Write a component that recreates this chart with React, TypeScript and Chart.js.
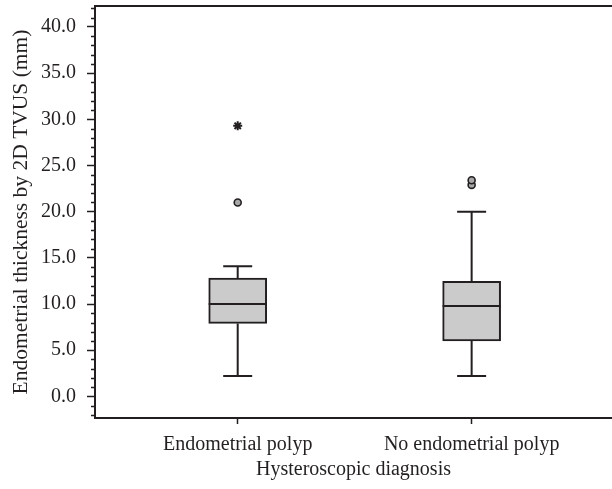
import React, { useEffect, useRef } from 'react';
import { Chart, registerables } from 'chart.js';

Chart.register(...registerables);

// ---- data ----
const categories = ['Endometrial polyp', 'No endometrial polyp'];
const categoryPositions = [1, 2];
const whiskerLow = [2.2, 2.2];
const quartile1 = [7.9, 6.0];
const medians = [10.0, 9.8];
const quartile3 = [12.8, 12.45];
const whiskerHigh = [14.1, 20.0];
const outlierX = [1, 2, 2];
const outlierY = [21.0, 22.9, 23.4];
const extremeX = [1];
const extremeY = [29.3];
const yTicks = [0, 5, 10, 15, 20, 25, 30, 35, 40];
const yMinorStep = 1;
const yMin = -2.34;
const yMax = 42.27;
const xMin = 0.39;
const xMax = 2.6;

const INK = '#231f20';
const FONT = '"Liberation Serif", "Times New Roman", serif';

const boxPlugin = {
  id: 'boxWhiskers',
  afterDatasetsDraw(chart: any) {
    const { ctx, scales } = chart;
    const x = scales.x;
    const y = scales.y;
    ctx.save();
    ctx.strokeStyle = INK;
    ctx.lineWidth = 2;
    ctx.lineCap = 'butt';
    categoryPositions.forEach((pos, i) => {
      const cx = x.getPixelForValue(pos);
      const capHalf = 14.5;
      const boxHalf = 29;
      const pHi = y.getPixelForValue(whiskerHigh[i]);
      const pLo = y.getPixelForValue(whiskerLow[i]);
      const pQ1 = y.getPixelForValue(quartile1[i]);
      const pQ3 = y.getPixelForValue(quartile3[i]);
      const pMed = y.getPixelForValue(medians[i]);
      ctx.beginPath();
      ctx.moveTo(cx, pQ3);
      ctx.lineTo(cx, pHi);
      ctx.moveTo(cx - capHalf, pHi);
      ctx.lineTo(cx + capHalf, pHi);
      ctx.moveTo(cx, pQ1);
      ctx.lineTo(cx, pLo);
      ctx.moveTo(cx - capHalf, pLo);
      ctx.lineTo(cx + capHalf, pLo);
      ctx.moveTo(cx - boxHalf, pMed);
      ctx.lineTo(cx + boxHalf, pMed);
      ctx.stroke();
    });
    ctx.restore();
  },
  afterDraw(chart: any) {
    const { ctx, chartArea, scales } = chart;
    const y = scales.y;
    ctx.save();
    ctx.strokeStyle = INK;
    // top frame line
    ctx.lineWidth = 2;
    ctx.beginPath();
    ctx.moveTo(chartArea.left - 1, chartArea.top);
    ctx.lineTo(chartArea.right + 2, chartArea.top);
    ctx.stroke();
    // minor ticks
    ctx.lineWidth = 1.3;
    ctx.beginPath();
    for (let v = Math.ceil(yMin); v <= Math.floor(yMax); v += yMinorStep) {
      if (v % 5 === 0) continue;
      const py = Math.round(y.getPixelForValue(v)) + 0.5;
      ctx.moveTo(chartArea.left - 4, py);
      ctx.lineTo(chartArea.left, py);
    }
    ctx.stroke();
    ctx.restore();
  },
};

export default function App() {
  const ref = useRef<HTMLCanvasElement | null>(null);

  useEffect(() => {
    if (!ref.current) return;
    Chart.defaults.font.family = FONT;
    Chart.defaults.color = INK;
    const chart = new Chart(ref.current, {
      type: 'bar',
      data: {
        datasets: [
          {
            type: 'bar',
            data: categoryPositions.map((p, i) => ({ x: p, y: [quartile1[i], quartile3[i]] })) as any,
            backgroundColor: '#cbcbcb',
            borderColor: INK,
            borderWidth: 2,
            borderSkipped: false,
            barThickness: 58,
          } as any,
          {
            type: 'scatter',
            data: outlierX.map((xv, i) => ({ x: xv, y: outlierY[i] })),
            pointStyle: 'circle',
            pointRadius: 3.5,
            pointBackgroundColor: '#a8a8a8',
            pointBorderColor: INK,
            pointBorderWidth: 1.6,
          } as any,
          {
            type: 'scatter',
            data: extremeX.map((xv, i) => ({ x: xv, y: extremeY[i] })),
            pointStyle: 'star',
            pointRadius: 4.5,
            pointBorderColor: INK,
            pointBorderWidth: 2,
          } as any,
        ],
      },
      options: {
        responsive: false,
        animation: false,
        devicePixelRatio: 1,
        layout: { padding: { top: 6, left: 0, right: 0, bottom: 0 }, autoPadding: false } as any,
        plugins: { legend: { display: false }, tooltip: { enabled: false } },
        scales: {
          x: {
            type: 'linear',
            min: xMin,
            max: xMax,
            offset: false,
            afterBuildTicks: (scale: any) => {
              scale.ticks = categoryPositions.map((v) => ({ value: v }));
            },
            afterFit: (scale: any) => {
              scale.height = 71;
              scale.paddingLeft = 0;
              scale.paddingRight = 0;
            },
            ticks: {
              autoSkip: false,
              maxRotation: 0,
              padding: 9,
              color: INK,
              font: { size: 20, family: FONT },
              callback: (v: any) => {
                const idx = categoryPositions.indexOf(Number(v));
                return idx >= 0 ? categories[idx] : '';
              },
            },
            grid: {
              display: true,
              drawOnChartArea: false,
              drawTicks: true,
              tickLength: 6,
              tickWidth: 1.5,
              tickColor: INK,
              offset: false,
            },
            border: { display: true, color: INK, width: 2 },
            title: {
              display: true,
              text: 'Hysteroscopic diagnosis',
              color: INK,
              font: { size: 20, family: FONT },
              padding: { top: 0, bottom: 7 },
            },
          },
          y: {
            type: 'linear',
            min: yMin,
            max: yMax,
            afterBuildTicks: (scale: any) => {
              scale.ticks = yTicks.map((v) => ({ value: v }));
            },
            afterFit: (scale: any) => {
              scale.width = 95;
              scale.paddingTop = 0;
              scale.paddingBottom = 0;
            },
            ticks: {
              padding: 11,
              color: INK,
              font: { size: 20, family: FONT },
              callback: (v: any) => Number(v).toFixed(1),
            },
            grid: {
              display: true,
              drawOnChartArea: false,
              drawTicks: true,
              tickLength: 8,
              tickWidth: 1.5,
              tickColor: INK,
            },
            border: { display: true, color: INK, width: 2 },
            title: {
              display: true,
              text: 'Endometrial thickness by 2D TVUS (mm)',
              color: INK,
              font: { size: 21.5, family: FONT },
              padding: { top: 8, bottom: 0 },
            },
          },
        },
      } as any,
      plugins: [boxPlugin],
    });
    return () => chart.destroy();
  }, []);

  return (
    <div style={{ position: 'absolute', left: 0, top: 0, width: 612, height: 489, background: '#fff' }}>
      <canvas ref={ref} width={612} height={489} style={{ display: 'block' }} />
    </div>
  );
}
